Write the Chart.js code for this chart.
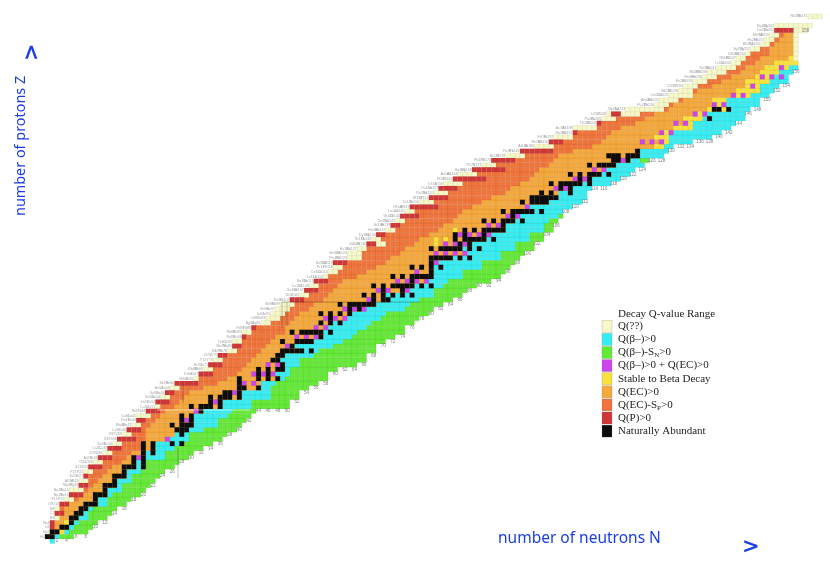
<!DOCTYPE html>
<html>
<head>
<meta charset="utf-8">
<title>Chart of nuclides</title>
<script src="https://cdn.jsdelivr.net/npm/chart.js@4"></script>
<style>
    html, body { margin: 0; background: #fff; }
    canvas { display: block; filter: blur(0.6px); }
</style>
</head>
<body>
<canvas id="myChart" width="830" height="563"></canvas>
<script>
// one entry per row (index = Z), values are the first N of each colour band
const rowStart = [
    1,0,1,1,1,2,2,2,3,4,
    5,5,7,7,8,8,9,10,11,12,
    13,14,15,16,17,18,19,19,21,23,
    23,24,25,26,27,31,32,33,34,35,
    36,38,39,39,41,41,43,45,46,47,
    48,49,51,53,54,55,56,58,59,60,
    60,63,63,65,67,68,69,71,72,73,
    74,75,76,78,80,81,82,83,85,86,
    89,91,93,96,99,102,105,106,110,110,
    115,116,117,121,127,128,130,132,133,135,
    137,138,140,143,144,146,147,149,150,151,
    152,152,0,159];
const creamEnd = [
    1,0,1,1,1,3,2,3,3,6,
    5,8,7,9,8,10,9,12,11,14,
    13,16,15,18,17,20,19,22,21,24,
    23,26,25,28,27,32,32,35,34,37,
    36,40,39,41,41,43,43,47,49,50,
    51,52,51,55,54,57,56,59,61,62,
    60,66,66,67,71,70,69,73,72,75,
    74,77,76,81,80,84,82,87,85,90,
    89,94,93,100,99,106,105,110,110,115,
    115,119,124,129,130,132,135,135,136,138,
    140,142,144,145,146,147,149,151,152,153,
    152,160,0,162];
const redEnd = [
    1,0,1,2,2,3,4,3,5,6,
    8,8,9,9,9,10,12,12,14,14,
    16,16,19,18,20,20,21,22,24,24,
    26,26,27,28,32,32,35,35,37,37,
    38,40,41,41,42,43,44,47,49,50,
    51,52,54,55,57,57,59,59,61,62,
    63,66,66,67,71,70,71,73,74,75,
    78,77,82,81,84,84,86,87,92,90,
    96,94,98,100,106,106,108,110,111,115,
    116,119,124,129,130,132,135,135,136,138,
    140,142,144,145,146,147,149,151,152,153,
    156,160,0,162];
const orangeStart = [
    1,0,1,2,2,3,4,4,5,7,
    8,9,10,11,12,13,14,16,17,18,
    20,20,21,21,21,22,23,24,25,27,
    28,29,30,33,36,38,40,41,42,43,
    44,45,46,47,48,50,50,51,52,53,
    55,56,58,59,60,61,62,65,67,69,
    71,72,74,75,77,78,80,82,83,85,
    86,87,89,91,93,96,97,99,101,102,
    103,105,106,107,110,114,116,117,118,120,
    123,125,127,130,131,133,135,136,139,141,
    143,145,146,148,149,151,151,152,153,154,
    156,160,0,162];
const yellowStart = [
    1,2,3,5,4,5,6,7,8,10,
    11,12,14,15,16,17,19,19,21,21,
    23,23,26,27,29,31,31,31,33,37,
    37,41,41,45,45,49,48,50,50,49,
    50,53,52,56,58,58,59,60,63,64,
    66,69,71,71,76,77,80,81,81,81,
    82,85,88,87,89,92,93,96,96,98,
    99,102,101,105,107,107,110,112,114,116,
    117,119,122,124,124,127,128,127,128,131,
    133,133,136,138,139,139,143,144,146,146,
    148,149,150,152,155,156,156,156,156,156,
    156,160,0,162];
const cyanStart = [
    1,2,4,5,6,7,8,9,11,11,
    13,13,15,15,17,17,19,19,21,21,
    23,23,26,27,29,31,31,31,33,37,
    37,41,41,45,45,49,48,50,50,49,
    50,53,52,56,58,58,59,60,63,64,
    66,69,71,71,76,77,80,81,81,81,
    82,85,88,87,89,92,93,96,96,98,
    99,102,101,105,107,107,110,112,114,116,
    117,119,122,124,124,129,130,130,131,135,
    135,137,138,142,142,142,147,149,149,151,
    152,153,155,157,156,156,156,156,156,156,
    156,160,0,162];
const greenStart = [
    2,3,5,6,7,9,9,10,13,13,
    14,16,16,18,18,20,21,21,25,25,
    27,28,30,30,33,36,36,38,39,43,
    43,47,47,47,48,50,51,51,53,53,
    56,57,60,62,64,65,67,68,70,71,
    75,76,78,81,81,83,84,87,87,91,
    91,95,95,98,98,101,101,104,104,105,
    107,108,110,112,113,113,114,118,120,122,
    123,125,124,129,130,131,135,139,141,143,
    144,146,146,147,149,149,151,152,153,155,
    155,156,157,157,156,156,156,156,156,156,
    156,160,0,162];
const rowEnd = [
    2,6,9,10,11,13,14,15,17,18,
    20,21,22,23,24,25,27,28,30,31,
    33,35,37,38,40,41,42,43,44,51,
    51,53,53,55,57,59,59,61,65,67,
    67,69,69,71,73,75,75,77,78,80,
    81,83,85,87,88,90,93,95,96,97,
    98,99,100,102,102,104,104,106,106,107,
    108,108,110,112,113,113,114,118,120,122,
    123,125,126,129,130,131,135,139,141,143,
    144,146,146,147,149,149,151,152,153,155,
    155,156,157,157,156,156,156,156,156,156,
    156,160,0,162];

// single cells sitting on top of the bands: [Z, [N, N, ...]]
const abundantCells = [
    [1,[0,1]],[2,[1,2]],[3,[3,4]],[4,[5]],[5,[5,6]],[6,[6,7]],[7,[7,8]],[8,[8,9,10]],[9,[10]],
    [10,[10,11,12]],[11,[12]],[12,[12,13,14]],[13,[14]],[14,[14,15,16]],[15,[16]],[16,[16,17,18,20]],
    [17,[18,20]],[18,[18,20]],[19,[20,22]],[20,[20,22]],[21,[20,22,26,28]],[23,[28]],[24,[27,28,29]],
    [25,[26,28,29,30]],[26,[28,30]],[27,[28,30]],[28,[32]],[29,[30,32,33,34,36]],[30,[34,36]],
    [31,[34,36,37,38,40]],[32,[37,38,40]],[33,[40,41,44]],[34,[40]],[35,[40,44,46,48]],[36,[44,46]],
    [37,[44,46,48,49]],[38,[49]],[39,[47,48]],[40,[48,49]],[41,[49,50,51,52,53,55]],[42,[51]],
    [43,[49,52,53,54,55]],[44,[57]],[45,[51,53,54,55,56,57,59]],[47,[57,59,61]],[48,[59]],
    [49,[57,59,61,63]],[50,[63,65]],[51,[61,63,64,65,66,67,68]],[52,[68,70,71]],[53,[66,68,70,72,74,76]],
    [54,[70,74]],[55,[68,70,72,73,74,75,76,78,80]],[56,[76]],[57,[72,74,76,77,78,79,80]],[58,[80]],
    [59,[76,78,80,82]],[60,[80]],[61,[80,81,82,83,84,86,88]],[63,[80,82,83,84,85,86,88,90]],[64,[86,88]],
    [65,[85,87,88,89,90,91,93]],[66,[85,87,91]],[67,[87,89,91,92,93,94,95]],[68,[95]],
    [69,[91,93,95,96,97,99]],[70,[97]],[71,[95,97,98,99,100,101,103]],[73,[99,101,102,103,104]],
    [74,[101,102,103,104,105,106]],[75,[103,105,109]],[76,[107,109]],[77,[105,107,108,109,110,111,113]],
    [78,[111,113]],[79,[109,111,113,114,115,117]],[81,[113,115,116,117,118]],[82,[118,119,121]],
    [83,[117,118,119,121,122,123]],[84,[123]],[91,[138]],[93,[139,140,142]]
];
const bothCells = [
    [18,[19]],[22,[25]],[26,[29]],[28,[31]],[30,[35]],[32,[39]],[34,[41,43]],[36,[43,45,47]],[38,[46,48]],
    [42,[50]],[44,[52,54,56]],[46,[56,58]],[48,[58,60,62]],[50,[62,64,66]],[52,[67]],[54,[69,71,75]],
    [56,[73,75,77,79]],[58,[77]],[60,[81]],[62,[81,83,85,87]],[64,[83,85,87]],[66,[86,88,90,92]],
    [68,[92,94]],[70,[96,98]],[72,[100]],[76,[106,108]],[78,[110,112]],[80,[114,116]],[82,[120]],
    [86,[124,126,128]],[88,[128,130]],[90,[131,133]],[92,[135,137]],[94,[139,141]],[96,[143,145]],
    [98,[147]],[100,[149,151,153]],[102,[153]]
];
const extraRed = [[64,[67,68]],[92,[118,119]]];
const extraCream = [[104,[156]],[105,[156]],[106,[156]],[107,[156]],[108,[156]],[109,[156]],[110,[156,157,158]]];
const extraYellow = [[64,[81]],[65,[81,83]],[67,[85]]];

const legendTitle = "Decay Q-value Range";
const legendLabels = ["Q(??)", "Q(β–)>0", "Q(β–)-S_N>0", "Q(β–)>0 + Q(EC)>0", "Stable to Beta Decay",
    "Q(EC)>0", "Q(EC)-S_P>0", "Q(P)>0", "Naturally Abundant"];
const legendColors = ["#f6f8c8", "#35eef4", "#62ea35", "#cc45ec", "#f9e23c", "#f6a83a", "#f1743a", "#cf3636", "#0c0c0c"];
const elements = ["n","H","He","Li","Be","B","C","N","O","F","Ne","Na","Mg","Al","Si","P","S","Cl","Ar","K","Ca","Sc","Ti","V","Cr","Mn","Fe","Co","Ni","Cu","Zn","Ga","Ge","As","Se","Br","Kr","Rb","Sr","Y","Zr","Nb","Mo","Tc","Ru","Rh","Pd","Ag","Cd","In","Sn","Sb","Te","I","Xe","Cs","Ba","La","Ce","Pr","Nd","Pm","Sm","Eu","Gd","Tb","Dy","Ho","Er","Tm","Yb","Lu","Hf","Ta","W","Re","Os","Ir","Pt","Au","Hg","Tl","Pb","Bi","Po","At","Rn","Fr","Ra","Ac","Th","Pa","U","Np","Pu","Am","Cm","Bk","Cf","Es","Fm","Md","No","Lr","Rf","Db","Sg","Bh","Hs","Mt","Ds","Rg","Cn","Nh"];

function bandCells(from, to) {
    const cells = [];
    for (let z = 0; z < rowStart.length; z++) {
        for (let n = from[z]; n < to[z]; n++) {
            cells.push({ x: n, y: z });
        }
    }
    return cells;
}

function listCells(list) {
    const cells = [];
    list.forEach(function (row) {
        row[1].forEach(function (n) { cells.push({ x: n, y: row[0] }); });
    });
    return cells;
}

function dataset(label, color, cells, order) {
    return {
        label: label,
        data: cells,
        order: order,
        pointStyle: "rect",
        pointRadius: 3.4,
        pointBorderWidth: 0.4,
        pointBackgroundColor: color,
        pointBorderColor: "rgba(70,60,30,0.16)"
    };
}

const chartText = {
    id: "chartText",
    afterDatasetsDraw(chart) {
        const ctx = chart.ctx;
        const xs = chart.scales.x;
        const ys = chart.scales.y;

        // leftover seam lines of the pasted pages
        ctx.lineWidth = 0.7;
        ctx.strokeStyle = "rgba(60,60,40,0.45)";
        ctx.beginPath();
        ctx.moveTo(282, 302); ctx.lineTo(420, 302);
        ctx.moveTo(282, 302); ctx.lineTo(282, 328);
        ctx.moveTo(287, 302); ctx.lineTo(287, 326);
        ctx.moveTo(178, 448); ctx.lineTo(178, 478);
        ctx.moveTo(183, 383); ctx.lineTo(183, 403);
        ctx.stroke();
        ctx.strokeStyle = "rgba(255,255,255,0.85)";
        ctx.beginPath();
        ctx.moveTo(157, 410); ctx.lineTo(250, 410);
        ctx.stroke();

        // small gray isotope names left of every row
        ctx.textAlign = "right";
        ctx.textBaseline = "middle";
        ctx.fillStyle = "#a0a0a0";
        ctx.font = "3.6px 'Liberation Sans'";
        for (let z = 1; z < rowStart.length; z++) {
            if (rowEnd[z] === 0) continue;
            const first = rowStart[z];
            ctx.fillText(elements[z] + (first + z - 1), xs.getPixelForValue(first - 0.55), ys.getPixelForValue(z));
            if (first > 2) {
                ctx.fillText(elements[z] + (first + z - 2), xs.getPixelForValue(first - 1.9), ys.getPixelForValue(z));
            }
        }

        // even N numbers under the lowest cell of the column
        ctx.textAlign = "center";
        ctx.fillStyle = "#808080";
        ctx.font = "4.5px 'Liberation Sans'";
        for (let n = 2; n <= 158; n += 2) {
            let z = 0;
            while (z < rowEnd.length && !(n >= rowStart[z] && n < rowEnd[z])) z++;
            if (z < rowEnd.length) {
                ctx.fillText(n, xs.getPixelForValue(n), ys.getPixelForValue(z - 1));
            }
        }

        // legend
        ctx.textAlign = "left";
        ctx.fillStyle = "#222";
        ctx.font = "11px 'Liberation Serif'";
        ctx.fillText(legendTitle, 618, 314);
        legendLabels.forEach(function (label, i) {
            const y = 326.3 + i * 13.1;
            ctx.fillStyle = legendColors[i];
            ctx.fillRect(602, y - 6, 10, 12);
            ctx.strokeStyle = "rgba(120,120,120,0.35)";
            ctx.strokeRect(602, y - 6, 10, 12);
            ctx.fillStyle = "#222";
            const parts = label.split("_");
            let x = 618;
            ctx.font = "11px 'Liberation Serif'";
            ctx.fillText(parts[0], x, y);
            if (parts.length > 1) {
                x += ctx.measureText(parts[0]).width;
                ctx.font = "7px 'Liberation Serif'";
                ctx.fillText(parts[1].charAt(0), x, y + 3);
                x += ctx.measureText(parts[1].charAt(0)).width;
                ctx.font = "11px 'Liberation Serif'";
                ctx.fillText(parts[1].slice(1), x, y);
            }
        });

        // axis names with the arrows
        ctx.fillStyle = "#1b3de6";
        ctx.font = "15.5px 'Noto Sans'";
        ctx.fillText("number of neutrons N", 498, 539);
        ctx.font = "bold 21px 'DejaVu Sans'";
        ctx.fillText(">", 742, 548);
        ctx.save();
        ctx.translate(21, 216);
        ctx.rotate(-Math.PI / 2);
        ctx.font = "14.4px 'Noto Sans'";
        ctx.fillText("number of protons Z", 0, 0);
        ctx.restore();
        ctx.save();
        ctx.translate(33, 61);
        ctx.rotate(-Math.PI / 2);
        ctx.font = "bold 21px 'DejaVu Sans'";
        ctx.fillText(">", 0, 0);
        ctx.restore();
    }
};

new Chart(document.getElementById("myChart").getContext("2d"), {
    type: "scatter",
    data: {
        datasets: [
            dataset(legendLabels[8], legendColors[8], listCells(abundantCells), 0),
            dataset(legendLabels[3], legendColors[3], listCells(bothCells), 1),
            dataset(legendLabels[7], legendColors[7], bandCells(creamEnd, redEnd).concat(listCells(extraRed)), 2),
            dataset(legendLabels[0], legendColors[0], bandCells(rowStart, creamEnd).concat(listCells(extraCream)), 3),
            dataset(legendLabels[4], legendColors[4], bandCells(yellowStart, cyanStart).concat(listCells(extraYellow)), 4),
            dataset(legendLabels[6], legendColors[6], bandCells(redEnd, orangeStart), 5),
            dataset(legendLabels[5], legendColors[5], bandCells(orangeStart, yellowStart), 5),
            dataset(legendLabels[1], legendColors[1], bandCells(cyanStart, greenStart), 5),
            dataset(legendLabels[2], legendColors[2], bandCells(greenStart, rowEnd), 5)
        ]
    },
    options: {
        responsive: false,
        animation: false,
        events: [],
        layout: { padding: 0 },
        plugins: { legend: { display: false }, tooltip: { enabled: false } },
        scales: {
            x: { type: "linear", display: false, min: -8.97, max: 162.2 },
            y: { type: "linear", display: false, min: -3.75, max: 115.6 }
        }
    },
    plugins: [chartText]
});
</script>
</body>
</html>
